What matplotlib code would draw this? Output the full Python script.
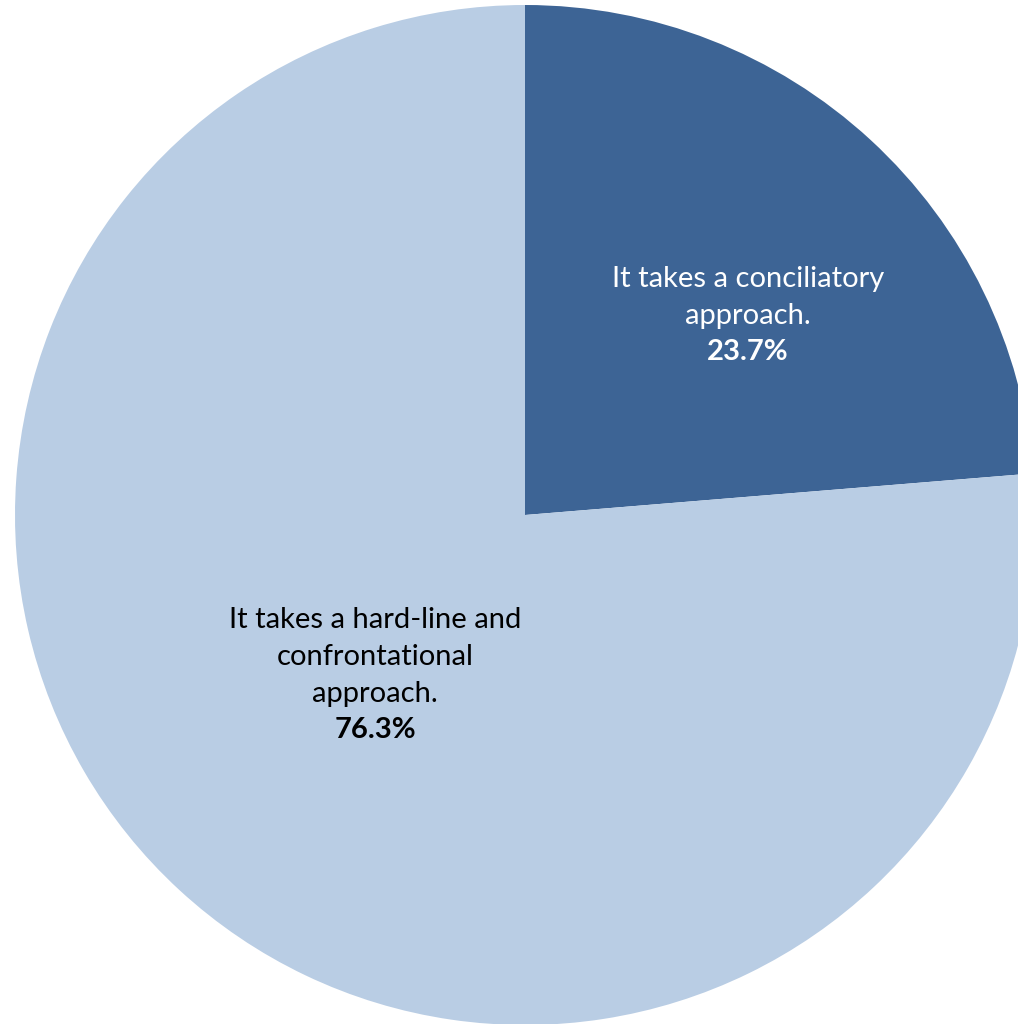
import matplotlib.pyplot as plt

# data
labels = ["It takes a conciliatory\napproach.",
          "It takes a hard-line and\nconfrontational\napproach."]
shares = [23.7, 76.3]
colors = ["#3D6495", "#B9CDE4"]
text_colors = ["white", "black"]
# label anchors (data units, pie radius = 1): boundary between name and percent
label_pos = [(0.437, 0.355), (-0.294, -0.386)]

plt.rcParams["font.family"] = ["Lato", "DejaVu Sans"]

W, H = 1018, 1024
cx, cy, R = 525, 515, 510

fig = plt.figure(figsize=(W / 100, H / 100), dpi=100)
ax = fig.add_axes([0, 0, 1, 1])
ax.pie(shares, colors=colors, startangle=90, counterclock=False,
       radius=1, center=(0, 0), wedgeprops=dict(linewidth=0))
ax.set_xlim(-cx / R, (W - cx) / R)
ax.set_ylim(-(H - cy) / R, cy / R)
ax.set_aspect("auto")
ax.axis("off")

for lab, val, (x, y), tc in zip(labels, shares, label_pos, text_colors):
    ax.text(x, y + 0.01, lab, ha="center", va="bottom", color=tc,
            fontsize=21, linespacing=1.52)
    ax.text(x, y - 0.01, f"{val:.1f}%", ha="center", va="top", color=tc,
            fontsize=21, fontweight="bold")

fig.savefig("out.png", dpi=100)
